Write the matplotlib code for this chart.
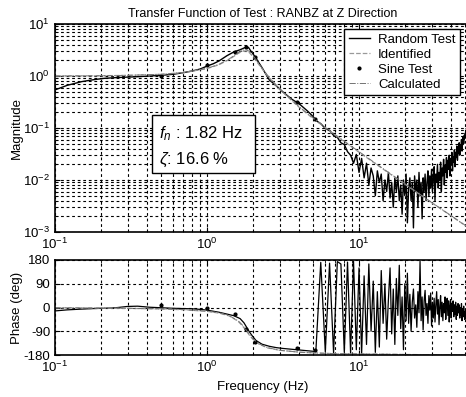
import numpy as np
import matplotlib
matplotlib.use('Agg')
import matplotlib.pyplot as plt
from matplotlib.patches import Rectangle

plt.rcParams['font.family'] = ['Liberation Sans', 'DejaVu Sans']
plt.rcParams['mathtext.fontset'] = 'custom'
plt.rcParams['mathtext.rm'] = 'Liberation Sans'
plt.rcParams['mathtext.it'] = 'Liberation Sans:italic'
plt.rcParams['axes.unicode_minus'] = False

# random test - smooth part
rand_f = [0.10, 0.12, 0.15, 0.18, 0.21, 0.25, 0.30, 0.35, 0.42, 0.50,
          0.60, 0.70, 0.80, 0.90, 1.00, 1.10, 1.20, 1.35, 1.50, 1.65,
          1.75, 1.80, 1.88, 1.93, 2.00, 2.10, 2.30, 2.57, 2.85, 3.14,
          3.60, 4.05, 4.60, 5.00]
rand_mag = [0.54, 0.66, 0.78, 0.85, 0.90, 0.93, 0.95, 0.97, 1.00, 1.03,
            1.08, 1.16, 1.25, 1.36, 1.55, 1.72, 1.95, 2.45, 2.90, 3.20,
            3.45, 3.60, 3.50, 3.10, 2.70, 2.20, 1.45, 0.84, 0.65, 0.50,
            0.36, 0.29, 0.21, 0.165]
rand_ph = [-13, -9, -6, -4, -3, -1, 4, 5, 1, -1,
           -3, -4, -5, -7, -10, -14, -18, -25, -31, -42,
           -58, -70, -88, -98, -110, -125, -139, -147, -152, -155,
           -158, -161, -164, -166]

# random test - noisy part
noise_f = [5.2, 5.6, 6.0, 6.4, 6.8, 7.2, 7.6, 8.0, 8.4, 8.8,
           9.2, 9.6, 10.0, 10.4, 10.8, 11.2, 11.6, 12.0, 12.4, 12.8,
           13.2, 13.6, 14.0, 14.4, 14.8, 15.2, 15.6, 16.0, 16.4, 16.8,
           17.2, 17.6, 18.0, 18.4, 18.8, 19.2, 19.6, 20.0, 20.4, 20.8,
           21.2, 21.6, 22.0, 22.4, 22.8, 23.2, 23.6, 24.0, 24.4, 24.8,
           25.2, 25.6, 26.0, 26.4, 26.8, 27.2, 27.6, 28.0, 28.4, 28.8,
           29.2, 29.6, 30.0, 30.4, 30.8, 31.2, 31.6, 32.0, 32.4, 32.8,
           33.2, 33.6, 34.0, 34.4, 34.8, 35.2, 35.6, 36.0, 36.4, 36.8,
           37.2, 37.6, 38.0, 38.4, 38.8, 39.2, 39.6, 40.0, 40.4, 40.8,
           41.2, 41.6, 42.0, 42.4, 42.8, 43.2, 43.6, 44.0, 44.4, 44.8,
           45.2, 45.6, 46.0, 46.4, 46.8, 47.2, 47.6, 48.0, 48.4, 48.8,
           49.2, 49.6, 50.0, 50.4, 50.8, 51.2, 51.6, 52.0, 52.4, 52.8,
           53.2, 53.6]
noise_mag = [0.140, 0.121, 0.098, 0.090, 0.072, 0.066, 0.052, 0.048, 0.035, 0.030,
             0.021, 0.031, 0.014, 0.026, 0.011, 0.021, 0.008, 0.017, 0.012, 0.005,
             0.015, 0.009, 0.013, 0.004, 0.010, 0.006, 0.014, 0.0045, 0.009, 0.003,
             0.011, 0.006, 0.012, 0.004, 0.008, 0.0022, 0.010, 0.005, 0.013, 0.0015,
             0.007, 0.011, 0.004, 0.009, 0.0012, 0.012, 0.006, 0.010, 0.003, 0.014,
             0.005, 0.009, 0.0018, 0.011, 0.006, 0.013, 0.004, 0.009, 0.015, 0.005,
             0.012, 0.007, 0.016, 0.006, 0.011, 0.018, 0.004, 0.013, 0.009, 0.020,
             0.007, 0.014, 0.010, 0.022, 0.006, 0.017, 0.012, 0.025, 0.008, 0.019,
             0.014, 0.027, 0.011, 0.024, 0.016, 0.030, 0.012, 0.026, 0.020, 0.034,
             0.015, 0.028, 0.022, 0.038, 0.018, 0.034, 0.027, 0.045, 0.024, 0.040,
             0.032, 0.052, 0.030, 0.048, 0.040, 0.060, 0.036, 0.055, 0.068, 0.050,
             0.072, 0.062, 0.080, 0.066, 0.085, 0.074, 0.090, 0.078, 0.095, 0.083,
             0.098, 0.088]
noise_ph = [-166, 171, -168, 168, -172, 174, 165, -170, 172, -174,
            176, -160, 150, -175, 120, -140, 165, -90, 100, -170,
            60, -150, 140, -60, 90, -120, 30, 150, -100, 70,
            -140, 110, -30, 160, -80, 40, -160, 90, -50, 130,
            -60, 50, -90, 20, 70, -40, 10, -75, 60, -20,
            175, -50, 40, -85, 25, 65, -30, 15, -60, 45,
            -10, 55, -70, 20, -40, 35, -55, 10, 60, -25,
            30, -65, 5, 45, -35, 20, -50, 15, -20, 40,
            -45, 10, 35, -30, 25, -55, 5, 30, -40, 15,
            -15, 25, -35, 10, -25, 20, -45, 5, -30, 15,
            -20, 10, -40, 0, -30, 15, -50, -5, -35, 5,
            -25, -45, -15, -40, -20, -50, -10, -35, -25, -45,
            -30, -20]

# identified / calculated models
mod_f = [0.1, 0.2, 0.3, 0.5, 0.7, 1.0, 1.2, 1.4, 1.6, 1.7, 1.8, 1.9, 2.0,
         2.2, 2.5, 3.0, 4.0, 5.0, 7.0, 10, 15, 20, 30, 40, 54]
ident_mag = [1.003, 1.012, 1.028, 1.076, 1.16, 1.387, 1.65, 2.08, 2.70, 2.98,
             3.04, 2.80, 2.38, 1.64, 1.00, 0.555, 0.256, 0.151, 0.0722, 0.0342,
             0.0149, 0.00834, 0.00369, 0.00207, 0.00114]
ident_ph = [-1, -2, -3.2, -5.6, -8.5, -14.6, -21.2, -32, -52, -68, -86, -105, -120,
            -139, -153, -162, -169, -172, -175, -176, -177, -178, -179, -179, -179]
calc_mag = [1.0, 1.01, 1.03, 1.08, 1.17, 1.40, 1.68, 2.13, 2.80, 3.12,
            3.22, 2.98, 2.50, 1.70, 1.03, 0.57, 0.262, 0.155, 0.074, 0.035,
            0.0152, 0.0085, 0.0037, 0.0021, 0.00115]
calc_ph = [-1, -2, -3, -5, -8, -14, -20, -31, -50, -65, -83, -102, -118,
           -138, -152, -162, -169, -172, -175, -176, -177, -178, -179, -179, -179]

# sine test points
sine_f = [0.5, 1.0, 1.52, 1.8, 2.07, 3.9, 5.1]
sine_mag = [1.02, 1.62, 2.93, 3.67, 2.3, 0.31, 0.15]
sine_ph = [8, -3, -26, -80, -131, -153, -161]

f_all = rand_f + noise_f
mag_all = rand_mag + noise_mag
ph_all = rand_ph + noise_ph

W, H = 466, 397
fig = plt.figure(figsize=(W/100, H/100), dpi=100)
ax1 = fig.add_axes([55/W, 1-232/H, 415/W, 208/H])
ax2 = fig.add_axes([55/W, 1-355/H, 415/W, 95/H])

gl = dict(color='k', linestyle=(0, (2.5, 2.5)), linewidth=0.8)

ax1.loglog(f_all, mag_all, 'k-', lw=1.0, label='Random Test')
ax1.loglog(mod_f, ident_mag, '--', color='0.6', lw=0.9, label='Identified')
ax1.loglog(sine_f, sine_mag, 'k.', ms=4, label='Sine Test')
ax1.loglog(mod_f, calc_mag, '-.', color='0.45', lw=0.7, label='Calculated')
ax1.set_xlim(0.1, 53.7)
ax1.set_ylim(1e-3, 10)
ax1.grid(True, which='both', **gl)
ax1.set_ylabel('Magnitude', fontsize=9.5)
ax1.yaxis.set_label_coords(-0.077, 0.5)
ax1.set_title('Transfer Function of Test : RANBZ at Z Direction', fontsize=9, pad=5)
leg = ax1.legend(loc='upper right', bbox_to_anchor=(0.976, 0.975), fontsize=9.5,
                 fancybox=False, framealpha=1, edgecolor='k', borderpad=0.35,
                 labelspacing=0.2, handlelength=1.6, handletextpad=0.6,
                 borderaxespad=0)
leg.get_frame().set_linewidth(1.0)

ax1.add_patch(Rectangle((0.234, 0.284), 0.248, 0.278, transform=ax1.transAxes,
                        facecolor='white', edgecolor='k', lw=1, zorder=5))
ax1.text(0.25, 0.475, r'$f_n$ : 1.82 Hz', transform=ax1.transAxes, fontsize=12,
         va='center', zorder=6)
ax1.text(0.25, 0.345, r'$\zeta$: 16.6 %', transform=ax1.transAxes, fontsize=12,
         va='center', zorder=6)

ax2.semilogx(f_all, ph_all, 'k-', lw=0.9)
ax2.semilogx(mod_f, ident_ph, '--', color='0.6', lw=0.9)
ax2.semilogx(sine_f, sine_ph, 'k.', ms=4)
ax2.semilogx(mod_f, calc_ph, '-.', color='0.45', lw=0.7)
ax2.set_xlim(0.1, 53.7)
ax2.set_ylim(-180, 180)
ax2.set_yticks([-180, -90, 0, 90, 180])
ax2.grid(True, which='major', **gl)
ax2.grid(True, which='minor', axis='x', **gl)
ax2.set_ylabel('Phase (deg)', fontsize=9.5)
ax2.yaxis.set_label_coords(-0.077, 0.5)
ax2.set_xlabel('Frequency (Hz)', fontsize=9.5)

for ax in (ax1, ax2):
    ax.tick_params(which='both', direction='in', top=True, right=True, labelsize=9.5)
    for s in ax.spines.values():
        s.set_linewidth(1.2)

fig.savefig('out.png', dpi=100)
